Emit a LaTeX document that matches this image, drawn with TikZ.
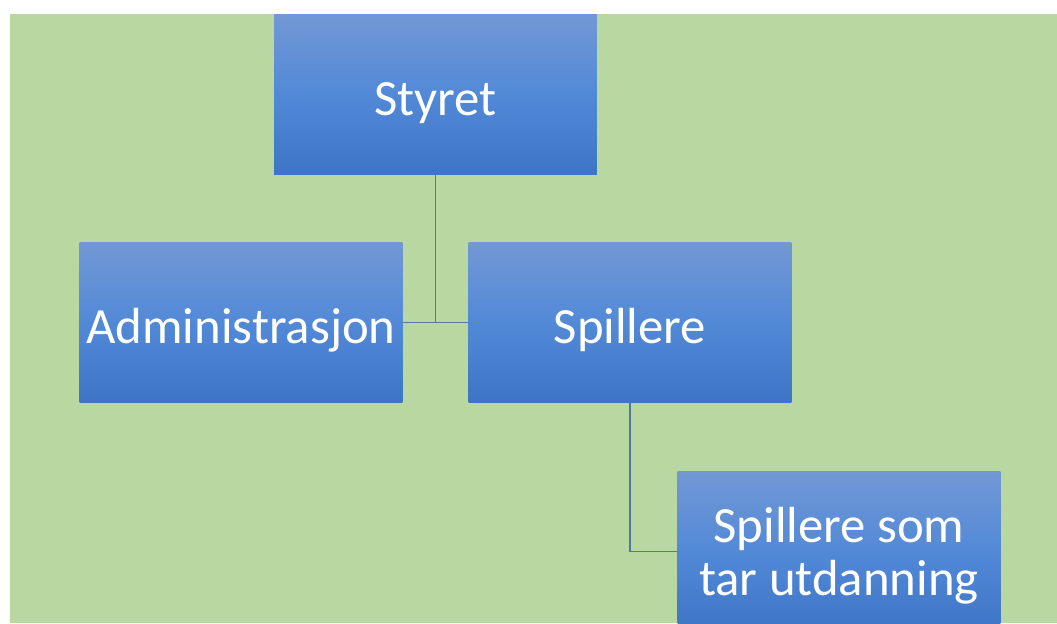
\documentclass[tikz,border=0pt]{standalone}
\usepackage{fontspec}
\setmainfont{Carlito}
\definecolor{bggreen}{RGB}{184,215,161}
\definecolor{boxtop}{RGB}{114,152,213}
\definecolor{boxmid}{RGB}{82,137,215}
\definecolor{boxbot}{RGB}{61,116,197}
\definecolor{linkblue}{RGB}{79,120,168}
\begin{document}
\begin{tikzpicture}[x=0.02cm, y=-0.02cm,
  orgbox/.style={minimum width=6.46cm, minimum height=3.22cm, inner sep=0pt,
    top color=boxtop, bottom color=boxbot, middle color=boxmid,
    text=white, font=\fontsize{28.9}{30}\selectfont, align=center,
    text height=24pt, text depth=0pt},
  link/.style={draw=linkblue, line width=1pt}]
  % Page and background
  \useasboundingbox (0,0) rectangle (1057,623);
  \fill[white] (0,0) rectangle (1057,623);
  \fill[bggreen] (10,14) rectangle (1057,623);

  \begin{scope}
  \clip (0,0) rectangle (1057,623);
  % Boxes
  \node[orgbox] (styret) at (435.5, 94.5) {Styret};
  \node[orgbox] (adm) at (241, 322.5) {Administrasjon};
  \node[orgbox] (spill) at (630, 322.5) {Spillere};
  \node[orgbox, text height=, text depth=-2pt] (utd) at (839, 551.5) {Spillere som\\tar utdanning};

  % Connectors
  \draw[link] (styret.south) -- (styret.south |- adm.east);
  \draw[link] (adm.east) -- (spill.west);
  \draw[link] (spill.south) |- (utd.west);
  \end{scope}
\end{tikzpicture}
\end{document}
